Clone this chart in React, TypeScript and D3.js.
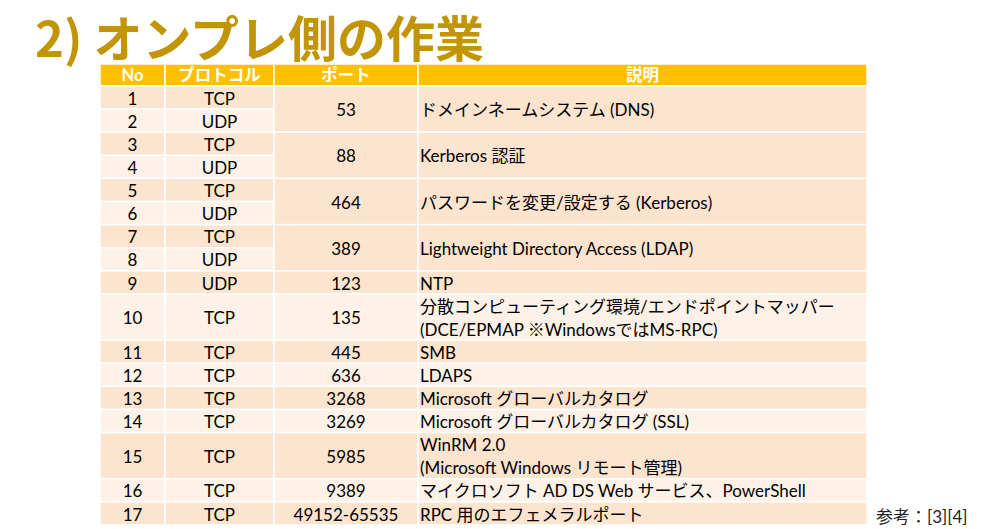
import React from "react";
import * as d3 from "d3";

const title = "2) オンプレ側の作業";
const headers = ["No", "プロトコル", "ポート", "説明"];
const nos = ["1","2","3","4","5","6","7","8","9","10","11","12","13","14","15","16","17"];
const protocols = ["TCP","UDP","TCP","UDP","TCP","UDP","TCP","UDP","UDP","TCP","TCP","TCP","TCP","TCP","TCP","TCP","TCP"];
const rowLines = [1,1,1,1,1,1,1,1,1,2,1,1,1,1,2,1,1];
const ports = ["53","88","464","389","123","135","445","636","3268","3269","5985","9389","49152-65535"];
const portSpans = [2,2,2,2,1,1,1,1,1,1,1,1,1];
const descriptions = [
  ["ドメインネームシステム (DNS)"],
  ["Kerberos 認証"],
  ["パスワードを変更/設定する (Kerberos)"],
  ["Lightweight Directory Access (LDAP)"],
  ["NTP"],
  ["分散コンピューティング環境/エンドポイントマッパー", "(DCE/EPMAP ※WindowsではMS-RPC)"],
  ["SMB"],
  ["LDAPS"],
  ["Microsoft グローバルカタログ"],
  ["Microsoft グローバルカタログ (SSL)"],
  ["WinRM 2.0", "(Microsoft Windows リモート管理)"],
  ["マイクロソフト AD DS Web サービス、PowerShell"],
  ["RPC 用のエフェメラルポート"],
];
const note = "参考：[3][4]";

const colEdges = [100, 165, 274, 418, 867];
const FONT = "Lato, 'Noto Sans CJK JP', sans-serif";
const DARK = "#FCE4CF";
const LIGHT = "#FEF2E8";
const HEAD = "#FFC000";

export default function App() {
  const totalUnits = d3.sum(rowLines);
  const y = d3.scaleLinear().domain([0, totalUnits]).range([86, 525]);
  const rowStart: number[] = [];
  let acc = 0;
  rowLines.forEach((l) => { rowStart.push(acc); acc += l; });
  const rowEnd = rowStart.map((s, i) => s + rowLines[i]);

  const groups: { start: number; end: number; first: number }[] = [];
  let r = 0;
  portSpans.forEach((sp) => {
    groups.push({ start: rowStart[r], end: rowEnd[r + sp - 1], first: r });
    r += sp;
  });
  const fill = (i: number) => (i % 2 === 0 ? DARK : LIGHT);
  const lineH = y(1) - y(0);
  const fs = 17;
  const dy = "0.42em";

  return (
    <svg width={981} height={529} style={{ position: "absolute", left: 0, top: 0, background: "#fff" }}>
      <text x={35} y={57} fontFamily="'Noto Sans CJK JP', sans-serif" fontWeight={700} fontSize={49} fill="#C29506">{title}</text>
      {headers.map((h, i) => (
        <g key={"h" + i}>
          <rect x={colEdges[i]} y={64} width={colEdges[i + 1] - colEdges[i]} height={22} fill={HEAD} stroke="#fff" strokeWidth={1.5} />
          <text x={(colEdges[i] + colEdges[i + 1]) / 2} y={75} dy="0.38em" textAnchor="middle" fontFamily={FONT} fontWeight={700} fontSize={16.5} fill="#fff">{h}</text>
        </g>
      ))}
      {nos.map((n, i) => {
        const y0 = y(rowStart[i]);
        const y1 = y(rowEnd[i]);
        const cy = (y0 + y1) / 2;
        return (
          <g key={"r" + i}>
            <rect x={colEdges[0]} y={y0} width={colEdges[1] - colEdges[0]} height={y1 - y0} fill={fill(i)} stroke="#fff" strokeWidth={1.5} />
            <rect x={colEdges[1]} y={y0} width={colEdges[2] - colEdges[1]} height={y1 - y0} fill={fill(i)} stroke="#fff" strokeWidth={1.5} />
            <text x={(colEdges[0] + colEdges[1]) / 2} y={cy} dy={dy} textAnchor="middle" fontFamily={FONT} fontSize={fs} fill="#000">{n}</text>
            <text x={(colEdges[1] + colEdges[2]) / 2} y={cy} dy={dy} textAnchor="middle" fontFamily={FONT} fontSize={fs} fill="#000">{protocols[i]}</text>
          </g>
        );
      })}
      {groups.map((g, gi) => {
        const y0 = y(g.start);
        const y1 = y(g.end);
        const cy = (y0 + y1) / 2;
        const lines = descriptions[gi];
        return (
          <g key={"g" + gi}>
            <rect x={colEdges[2]} y={y0} width={colEdges[3] - colEdges[2]} height={y1 - y0} fill={fill(g.first)} stroke="#fff" strokeWidth={1.5} />
            <rect x={colEdges[3]} y={y0} width={colEdges[4] - colEdges[3]} height={y1 - y0} fill={fill(g.first)} stroke="#fff" strokeWidth={1.5} />
            <text x={(colEdges[2] + colEdges[3]) / 2} y={cy} dy={dy} textAnchor="middle" fontFamily={FONT} fontSize={fs} fill="#000">{ports[gi]}</text>
            {lines.map((t, li) => (
              <text key={li} x={colEdges[3] + 2} y={cy + (li - (lines.length - 1) / 2) * lineH} dy={dy} fontFamily={FONT} fontSize={fs} fill="#000">{t}</text>
            ))}
          </g>
        );
      })}
      <text x={876} y={516} dy="0.4em" fontFamily={FONT} fontSize={17} fill="#222">{note}</text>
    </svg>
  );
}
